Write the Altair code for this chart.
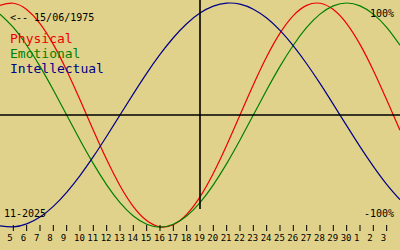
import altair as alt
import pandas as pd

# Day index 0 = 4 Nov 2025 ... 30 = 4 Dec 2025
day_idx = list(range(31))
day_of_month = ["4", "5", "6", "7", "8", "9", "10", "11", "12", "13", "14", "15", "16", "17",
                "18", "19", "20", "21", "22", "23", "24", "25", "26", "27", "28", "29", "30",
                "1", "2", "3", "4"]

physical = [0.979, 0.998, 0.942, 0.817, 0.631, 0.398, 0.136, -0.136, -0.398, -0.631,
            -0.817, -0.942, -0.998, -0.979, -0.888, -0.731, -0.520, -0.270, 0.0, 0.270,
            0.520, 0.731, 0.888, 0.979, 0.998, 0.942, 0.817, 0.631, 0.398, 0.136, -0.136]
emotional = [0.901, 0.782, 0.623, 0.434, 0.223, 0.0, -0.223, -0.434, -0.623, -0.782,
             -0.901, -0.975, -1.0, -0.975, -0.901, -0.782, -0.623, -0.434, -0.223, 0.0,
             0.223, 0.434, 0.623, 0.782, 0.901, 0.975, 1.0, 0.975, 0.901, 0.782, 0.623]
intellectual = [-0.990, -0.999, -0.972, -0.910, -0.815, -0.690, -0.541, -0.372, -0.189, 0.0,
                0.189, 0.372, 0.541, 0.690, 0.815, 0.910, 0.972, 0.999, 0.990, 0.945,
                0.866, 0.756, 0.618, 0.458, 0.282, 0.095, -0.095, -0.282, -0.458, -0.618, -0.756]

series_names = ["Physical", "Emotional", "Intellectual"]
series_colors = ["#ee0000", "#008000", "#000088"]
tick_values = list(range(1, 30))
today_idx = 15
birth_text = "<-- 15/06/1975"
month_text = "11-2025"

rows = []
for name, vals in zip(series_names, [physical, emotional, intellectual]):
    for i, v in zip(day_idx, vals):
        rows.append({"idx": i, "value": v, "series": name})
df = pd.DataFrame(rows)

tick_df = pd.DataFrame({"idx": tick_values, "label": [day_of_month[i] for i in tick_values]})

BG = "#e0d28a"
FONT = "DejaVu Sans Mono"

xscale = alt.Scale(domain=[0, 30], nice=False, zero=False)
yscale = alt.Scale(domain=[-1.205, 1.027], nice=False, zero=False)

lines = alt.Chart(df).mark_line(strokeWidth=1.2, interpolate="natural", clip=True).encode(
    x=alt.X("idx:Q", scale=xscale, axis=None),
    y=alt.Y("value:Q", scale=yscale, axis=None),
    color=alt.Color("series:N", scale=alt.Scale(domain=series_names, range=series_colors), legend=None),
    detail="series:N",
)

ticks = alt.Chart(tick_df).mark_rule(color="black", strokeWidth=1).encode(
    x=alt.X("idx:Q", scale=xscale), y=alt.value(225), y2=alt.value(231)
)

tick_labels = alt.Chart(tick_df).mark_text(
    font=FONT, fontSize=9, color="black", align="left", baseline="alphabetic", dx=-6
).encode(x=alt.X("idx:Q", scale=xscale), y=alt.value(241), text="label:N")

zero_line = alt.Chart().mark_rule(color="black", strokeWidth=1.6).encode(
    y=alt.datum(0, scale=yscale), x=alt.value(0), x2=alt.value(400)
)
today_line = alt.Chart().mark_rule(color="black", strokeWidth=1.6).encode(
    x=alt.datum(today_idx, scale=xscale), y=alt.value(0), y2=alt.value(209)
)

def txt(s, x, y, size, color="black", align="left"):
    return alt.Chart().mark_text(text=s, font=FONT, fontSize=size, color=color, align=align,
                                 baseline="alphabetic").encode(x=alt.value(x), y=alt.value(y))

texts = [
    txt(birth_text, 10, 21, 10),
    txt(series_names[0], 10, 43, 13, series_colors[0]),
    txt(series_names[1], 10, 58, 13, series_colors[1]),
    txt(series_names[2], 10, 73, 13, series_colors[2]),
    txt("100%", 394, 17, 10, align="right"),
    txt("-100%", 394, 217, 10, align="right"),
    txt(month_text, 4, 217, 10),
]

chart = alt.layer(lines, ticks, tick_labels, zero_line, today_line, *texts).properties(
    width=400, height=250, padding=0, autosize=alt.AutoSizeParams(type="none"), background=BG
).configure_view(stroke=None, fill=BG)

chart.save("out.html", embed_options={"renderer": "svg", "actions": False})
